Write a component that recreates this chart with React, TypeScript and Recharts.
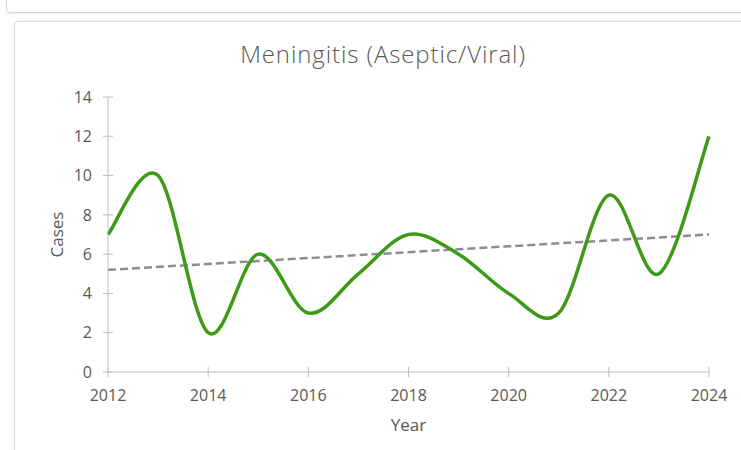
import React from "react";
import { Label, Line, LineChart, XAxis, YAxis } from "recharts";

const years = [2012, 2013, 2014, 2015, 2016, 2017, 2018, 2019, 2020, 2021, 2022, 2023, 2024];
const cases = [7, 10, 2, 6, 3, 5, 7, 6, 4, 3, 9, 5, 12];
// linear trend, first and last year
const trendEnds = [5.2, 7.0];
const yearTicks = [2012, 2014, 2016, 2018, 2020, 2022, 2024];
const caseTicks = [0, 2, 4, 6, 8, 10, 12, 14];

const data = years.map((year, i) => ({
  year,
  cases: cases[i],
  trend: i === 0 ? trendEnds[0] : i === years.length - 1 ? trendEnds[1] : null,
}));

// Catmull-Rom style smoothing, overshoots between points like office charts do
const smoothCurve = (context: any) => {
  let pts: [number, number][] = [];
  return {
    areaStart() {},
    areaEnd() {},
    lineStart() {
      pts = [];
    },
    point(x: number, y: number) {
      pts.push([+x, +y]);
    },
    lineEnd() {
      if (!pts.length) return;
      context.moveTo(pts[0][0], pts[0][1]);
      for (let i = 0; i < pts.length - 1; i++) {
        const p0 = pts[i - 1] || pts[i];
        const p1 = pts[i];
        const p2 = pts[i + 1];
        const p3 = pts[i + 2] || p2;
        context.bezierCurveTo(
          p1[0] + (p2[0] - p0[0]) / 6,
          p1[1] + (p2[1] - p0[1]) / 6,
          p2[0] - (p3[0] - p1[0]) / 6,
          p2[1] - (p3[1] - p1[1]) / 6,
          p2[0],
          p2[1]
        );
      }
    },
  };
};

const font = "'Open Sans', 'Liberation Sans', sans-serif";
const textColor = "#595959";
const axisColor = "#bfbfbf";

export default function App() {
  return (
    <div style={{ position: "absolute", left: 0, top: 0, width: 741, height: 450, background: "#fff", overflow: "hidden", fontFamily: font }}>
      <div style={{ position: "absolute", left: 6, top: -9, width: 760, height: 20, border: "1px solid #d6d6d6", borderRadius: 4, boxShadow: "0 1px 2px rgba(0,0,0,0.08)" }} />
      <div style={{ position: "absolute", left: 14, top: 21, width: 760, height: 460, border: "1px solid #d9d9d9", borderRadius: 4, boxShadow: "0 0 2px rgba(0,0,0,0.1)" }} />
      <div
        style={{
          position: "absolute",
          left: 0,
          top: 37,
          width: 766,
          textAlign: "center",
          fontSize: 24,
          lineHeight: "33px",
          fontWeight: 300,
          letterSpacing: 0.9,
          color: textColor,
        }}
      >
        Meningitis (Aseptic/Viral)
      </div>
      <div style={{ position: "absolute", left: 0, top: 0 }}>
        <LineChart width={741} height={450} data={data} margin={{ top: 97, right: 32, bottom: 18, left: 48 }}>
          <XAxis
            dataKey="year"
            type="number"
            domain={[2012, 2024]}
            ticks={yearTicks}
            stroke={axisColor}
            tickSize={10}
            tickMargin={8}
            tickLine={{ stroke: axisColor, transform: "translate(0,-5)" }}
            tick={{ fill: textColor, fontSize: 16, fontFamily: font }}
            height={60}
            interval={0}
          >
            <Label value="Year" position="insideBottom" offset={1} fill={textColor} fontSize={17} fontFamily={font} />
          </XAxis>
          <YAxis
            type="number"
            domain={[0, 14]}
            ticks={caseTicks}
            stroke={axisColor}
            tickSize={10}
            tickMargin={6}
            tickLine={{ stroke: axisColor, transform: "translate(5,0)" }}
            tick={{ fill: textColor, fontSize: 16, fontFamily: font }}
            width={60}
            interval={0}
          >
            <Label value="Cases" angle={-90} position="insideLeft" offset={9} textAnchor="middle" fill={textColor} fontSize={17} fontFamily={font} />
          </YAxis>
          <Line
            dataKey="trend"
            type="linear"
            connectNulls
            stroke="#8c8c94"
            strokeWidth={2.5}
            strokeDasharray="8 4"
            dot={false}
            isAnimationActive={false}
          />
          <Line
            dataKey="cases"
            type={smoothCurve as any}
            stroke="#3d9a16"
            strokeWidth={3.5}
            dot={false}
            isAnimationActive={false}
          />
        </LineChart>
      </div>
    </div>
  );
}
